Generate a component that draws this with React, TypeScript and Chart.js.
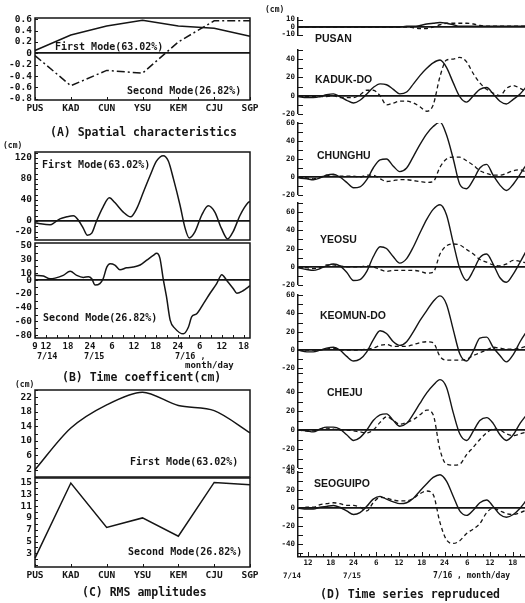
import React, { useEffect, useRef } from "react";
import { Chart, registerables } from "chart.js";

Chart.register(...registerables);

const MONO = "'DejaVu Sans Mono', 'Liberation Mono', monospace";
const SANS = "'Liberation Sans', 'DejaVu Sans', sans-serif";
const INK = "#151515";

// ---------------- (A) Spatial characteristics ----------------
const stationCodes = ["PUS", "KAD", "CUN", "YSU", "KEM", "CJU", "SGP"];
const spatialFirst = [0.05, 0.32, 0.48, 0.58, 0.48, 0.44, 0.3];
const spatialSecond = [-0.04, -0.57, -0.3, -0.35, 0.2, 0.57, 0.57];
const spatialTicks = [-0.8, -0.6, -0.4, -0.2, 0, 0.2, 0.4, 0.6];

// ---------------- (B) Time coefficient (hours from 7/14 00h) ----------------
const coefFirstHours = [9, 10.4, 13.1, 14.5, 15.8, 17.7, 19.5, 20.8, 22.2, 23.3, 24.5, 25.8, 27.6, 29.3, 30.8, 33.1, 35.1, 36.8, 38.6, 40.4, 42.2, 44.0, 45.4, 46.8, 48.6, 50.0, 51.1, 52.7, 54.5, 56.3, 58.1, 59.9, 61.6, 63.1, 65.0, 67.2, 67.7];
const coefFirstValues = [-3, -5, -7, -2, 4, 8, 10, 2, -14, -27, -23, 0, 27, 44, 35, 17, 8, 24, 55, 86, 114, 124, 114, 80, 30, -14, -32, -20, 11, 29, 17, -14, -34, -20, 11, 35, 37];
const coefSecondHours = [9, 11.3, 13.1, 14.5, 16.7, 18.6, 20.4, 22.2, 23.6, 24.5, 25.4, 26.7, 27.6, 28.6, 29.5, 30.8, 32.2, 34.0, 35.8, 37.7, 39.5, 41.3, 42.2, 43.1, 44.0, 44.9, 45.9, 47.2, 49.5, 50.9, 51.8, 53.1, 55.0, 56.8, 58.6, 60.0, 61.3, 63.1, 64.1, 65.9, 67.2, 67.7];
const coefSecondValues = [7, 6, 2, 3, 7, 13, 7, 4, 5, 2, -7, -5, 2, 19, 24, 22, 15, 18, 19, 22, 29, 36, 39, 32, 2, -24, -58, -70, -78, -68, -53, -49, -34, -19, -5, 8, 0, -12, -19, -15, -10, -8];
const coefFirstTickLabels = [120, 80, 40, 0, -20];
const coefSecondTickLabels = [50, 30, 10, 0, -20, -40, -60, -80];
const leftHourLabels = [9, 12, 18, 24, 30, 36, 42, 48, 54, 60, 66];

// ---------------- (C) RMS amplitudes ----------------
const rmsFirst = [2.0, 13.5, 19.9, 23.4, 19.7, 18.3, 12.2];
const rmsSecond = [2.2, 14.9, 7.4, 9.0, 5.9, 15.0, 14.6];
const rmsFirstTickLabels = [22, 18, 14, 10, 6, 2];
const rmsSecondTickLabels = [15, 13, 11, 9, 7, 5, 3];

// ---------------- (D) Time series reproduced ----------------
const seriesHours = [9.4, 11.7, 13.4, 15.2, 16.9, 18.7, 20.4, 22.2, 24.0, 25.7, 27.5, 29.2, 31.0, 32.7, 34.5, 36.2, 38.0, 39.8, 41.5, 43.3, 45.0, 46.8, 48.5, 50.3, 52.0, 53.8, 55.6, 57.3, 59.1, 60.8, 62.6, 64.3, 66.1, 67.9, 69.6];
const rightHourLabels = [12, 18, 24, 30, 36, 42, 48, 54, 60, 66];

const pusanFirst = [0, 0, 0, 0, 0, 0, 0, 0, 0, 0, 0, 0, 0, 0, 0, 0, 1, 1, 2, 4, 5, 6, 5, 3, 1, 1, 1, 1, 1, 1, 1, 1, 1, 1, 1];
const pusanSecond = [0, 0, 0, 0, 0, 0, 0, 0, 0, 0, 0, 0, 0, 0, 0, 0, 0, -1, -2, -2, 0, 3, 5, 5, 5, 5, 4, 2, 1, 1, 1, 1, 1, 1, 1];
const kadukFirst = [-1, -2, -2, -1, 1, 2, -1, -5, -8, -5, 2, 9, 13, 12, 7, 2, 4, 13, 22, 30, 36, 39, 31, 14, -1, -7, 0, 7, 9, 2, -6, -9, -4, 2, 10];
const kadukSecond = [0, -1, -1, -1, -1, 0, -2, -2, -2, 1, 6, 6, 0, -10, -8, -6, -6, -8, -12, -17, -10, 21, 39, 40, 42, 37, 24, 14, 7, 3, 0, 8, 11, 8, 4];
const chunghuFirst = [-1, -2, -3, -1, 2, 3, 0, -6, -12, -11, -3, 10, 19, 20, 12, 6, 10, 23, 36, 48, 56, 61, 47, 20, -8, -13, -3, 10, 14, 2, -9, -15, -8, 3, 14];
const chunghuSecond = [0, -1, -2, 0, 2, 1, 1, 1, 1, 0, 2, 2, -2, -5, -4, -3, -3, -4, -5, -6, -5, 11, 20, 22, 22, 18, 13, 7, 4, 2, 2, 4, 7, 8, 5];
const yeosuFirst = [-1, -3, -4, -2, 1, 3, 1, -6, -15, -14, -5, 11, 22, 20, 11, 4, 9, 22, 37, 52, 63, 68, 57, 26, -2, -15, -4, 10, 14, 3, -12, -17, -8, 5, 18];
const yeosuSecond = [0, -1, -2, -1, 2, 2, 1, 0, 0, 0, 1, 0, -3, -5, -4, -4, -4, -4, -5, -7, -6, 14, 23, 25, 24, 19, 14, 8, 5, 2, 1, 3, 7, 6, 4];
const keomunFirst = [0, -2, -2, 0, 2, 3, 0, -7, -12, -10, -2, 11, 21, 18, 9, 5, 9, 20, 32, 43, 53, 59, 50, 22, -4, -12, -1, 13, 14, 3, -6, -13, -5, 9, 20];
const keomunSecond = [0, 0, 0, 0, 1, 2, 0, 0, 0, 0, 1, 2, 5, 6, 4, 4, 4, 6, 8, 9, 8, -7, -11, -11, -11, -10, -6, -3, 0, 3, 2, 1, 1, 2, 4];
const chejuFirst = [0, -1, -2, 1, 3, 3, 1, -5, -11, -8, 0, 10, 16, 17, 10, 4, 7, 17, 28, 39, 47, 53, 45, 18, -4, -11, -1, 10, 13, 7, -5, -11, -5, 7, 16];
const chejuSecond = [0, -1, -1, 1, 2, 1, 0, 0, -1, -2, -3, 0, 8, 14, 10, 6, 8, 11, 16, 21, 16, -21, -36, -37, -36, -26, -18, -10, -3, 1, 0, -4, -6, -4, -2];
const seoguipoFirst = [0, -1, -1, 1, 2, 3, 1, -3, -7, -5, 2, 10, 13, 10, 7, 5, 6, 11, 19, 27, 34, 37, 30, 13, -3, -8, -2, 6, 9, 2, -7, -10, -7, 0, 9];
const seoguipoSecond = [0, 1, 1, 4, 5, 6, 5, 3, 3, 1, -3, 6, 12, 11, 9, 8, 8, 11, 16, 19, 15, -16, -35, -39, -36, -28, -23, -17, -5, 0, -3, -6, -7, -5, -2];

const pusanTickLabels = [10, 0, -10];
const kadukTickLabels = [40, 20, 0, -20];
const midTickLabels = [60, 40, 20, 0, -20];
const lowTickLabels = [40, 20, 0, -20, -40];

// ---------------- helpers ----------------
const range = (a: number, b: number, step: number) => {
  const out: number[] = [];
  for (let v = a; v <= b + 1e-9; v += step) out.push(Math.round(v * 1000) / 1000);
  return out;
};
const xy = (xs: number[], ys: number[]) => xs.map((x, i) => ({ x, y: ys[i] }));
const fmtDec = (v: number) => (v === 0 ? "0" : v.toFixed(1));
const fmtInt = (v: number) => String(v);
const hourLabel = (h: number) => (h % 24 === 0 ? "24" : String(h % 24));

const decor = {
  id: "decor",
  afterDatasetsDraw(chart: any, _a: any, o: any) {
    if (!o) return;
    const { ctx, chartArea: a } = chart;
    ctx.save();
    ctx.strokeStyle = INK;
    if (o.frame) {
      ctx.lineWidth = 1.5;
      ctx.strokeRect(a.left, a.top, a.right - a.left, a.bottom - a.top);
    }
    ctx.lineWidth = 1;
    if (o.yIn) {
      const s = chart.scales.y;
      for (const t of s.ticks) {
        const y = Math.round(s.getPixelForValue(t.value)) + 0.5;
        ctx.beginPath();
        ctx.moveTo(a.left, y);
        ctx.lineTo(a.left + o.yIn, y);
        ctx.stroke();
      }
    }
    if (o.xIn) {
      const s = chart.scales.x;
      for (const t of s.ticks) {
        const x = Math.round(s.getPixelForValue(t.value)) + 0.5;
        const len = o.xMajor && t.value % o.xMajor === 0 ? o.xMajorLen : o.xIn;
        ctx.beginPath();
        ctx.moveTo(x, a.bottom);
        ctx.lineTo(x, a.bottom - len);
        ctx.stroke();
      }
    }
    ctx.restore();
  },
};
Chart.register(decor as any);

function yAxis(min: number, max: number, marks: number[], labels: number[], fmt: (v: number) => string, width: number, fontSize: number, showLine: boolean, zero: boolean) {
  return {
    type: "linear",
    position: "left",
    min,
    max,
    afterBuildTicks: (s: any) => {
      s.ticks = marks.map((v) => ({ value: v }));
    },
    afterFit: (s: any) => {
      s.width = width;
      s.paddingTop = 0;
      s.paddingBottom = 0;
    },
    ticks: {
      autoSkip: false,
      padding: 3,
      color: INK,
      font: { family: MONO, size: fontSize, weight: "bold" },
      callback: (v: any) => (labels.includes(v) ? fmt(v) : ""),
    },
    grid: {
      drawTicks: false,
      color: (c: any) => (zero && c.tick && c.tick.value === 0 ? INK : "rgba(0,0,0,0)"),
      lineWidth: (c: any) => (zero && c.tick && c.tick.value === 0 ? 1.8 : 0),
    },
    border: { display: showLine, color: INK, width: 1.5 },
  };
}

function hourAxis(min: number, max: number, marks: number[], labels: number[], show: boolean, height: number, fontSize: number, showLine: boolean, pad: number) {
  return {
    type: "linear",
    position: "bottom",
    min,
    max,
    display: show,
    afterBuildTicks: (s: any) => {
      s.ticks = marks.map((v) => ({ value: v }));
    },
    afterFit: (s: any) => {
      s.height = show ? height : 0;
      s.paddingLeft = 0;
      s.paddingRight = 0;
    },
    ticks: {
      autoSkip: false,
      maxRotation: 0,
      minRotation: 0,
      padding: pad,
      color: INK,
      font: { family: MONO, size: fontSize, weight: "bold" },
      callback: (v: any) => (labels.includes(v) ? hourLabel(v) : ""),
    },
    grid: { display: false, drawTicks: false },
    border: { display: showLine, color: INK, width: 1.5 },
  };
}

function catAxis(show: boolean, height: number, fontSize: number) {
  return {
    type: "category",
    position: "bottom",
    offset: false,
    display: show,
    afterFit: (s: any) => {
      s.height = show ? height : 0;
      s.paddingLeft = 0;
      s.paddingRight = 0;
    },
    ticks: {
      autoSkip: false,
      maxRotation: 0,
      minRotation: 0,
      padding: 3,
      color: INK,
      font: { family: MONO, size: fontSize, weight: "bold" },
    },
    grid: { display: false, drawTicks: false },
    border: { display: false },
  };
}

const line = (data: any[], dash: number[] = [], width = 1.5, tension = 0, mono = false) => ({
  data,
  borderColor: INK,
  borderWidth: width,
  borderDash: dash,
  pointRadius: 0,
  tension,
  cubicInterpolationMode: mono ? "monotone" : "default",
  fill: false,
});

type Geo = { L: number; T: number; R: number; B: number; yW: number; xH: number; pl: number; pr: number; pt: number; pb: number };

function makeSpec(g: Geo, data: () => any, scales: () => any, decorOpts: any) {
  const left = g.L - g.yW - g.pl;
  const top = g.T - g.pt;
  const width = Math.round(g.R + g.pr - left);
  const height = Math.round(g.B + g.xH + g.pb - top);
  return {
    box: { left, top, width, height },
    make: () => ({
      type: "line",
      data: data(),
      options: {
        responsive: false,
        animation: false,
        devicePixelRatio: 1,
        events: [],
        layout: { padding: { left: g.pl, right: g.pr, top: g.pt, bottom: g.pb } },
        plugins: { legend: { display: false }, tooltip: { enabled: false }, decor: decorOpts },
        scales: scales(),
        elements: { point: { radius: 0 } },
      },
    }),
  };
}

// ---------------- chart specs ----------------
const LEFT = { L: 35, R: 250, yW: 33, pl: 2, pr: 12, pt: 7, pb: 4 };

const leftSpecs = [
  makeSpec(
    { ...LEFT, T: 18, B: 100, xH: 14 },
    () => ({ labels: stationCodes, datasets: [line(spatialFirst), line(spatialSecond, [8, 3, 2, 3])] }),
    () => ({ x: catAxis(true, 14, 9.5), y: yAxis(-0.82, 0.62, spatialTicks, spatialTicks, fmtDec, 33, 9.5, false, true) }),
    { frame: true, yIn: 3, xIn: 3 }
  ),
  makeSpec(
    { ...LEFT, T: 152, B: 240, xH: 0 },
    () => ({ datasets: [line(xy(coefFirstHours, coefFirstValues), [], 1.5, 0, true)] }),
    () => ({
      x: hourAxis(9, 67.7, range(9, 66, 3), leftHourLabels, false, 0, 9, false, 3),
      y: yAxis(-36, 131, range(-30, 130, 10), coefFirstTickLabels, fmtInt, 33, 9.5, false, true),
    }),
    { frame: true, yIn: 3 }
  ),
  makeSpec(
    { ...LEFT, T: 243, B: 338, xH: 14 },
    () => ({ datasets: [line(xy(coefSecondHours, coefSecondValues), [], 1.5, 0, true)] }),
    () => ({
      x: hourAxis(9, 67.7, range(9, 66, 3), leftHourLabels, true, 14, 9, false, 3),
      y: yAxis(-84, 54, range(-80, 50, 10), coefSecondTickLabels, fmtInt, 33, 9.5, false, true),
    }),
    { frame: true, yIn: 3, xIn: 3 }
  ),
  makeSpec(
    { ...LEFT, T: 390, B: 477, xH: 0 },
    () => ({ labels: stationCodes, datasets: [line(rmsFirst, [], 1.5, 0.3)] }),
    () => ({ x: catAxis(false, 0, 9.5), y: yAxis(0, 24, range(0, 24, 2), rmsFirstTickLabels, fmtInt, 33, 9.5, false, false) }),
    { frame: true, yIn: 3 }
  ),
  makeSpec(
    { ...LEFT, T: 478, B: 567, xH: 14 },
    () => ({ labels: stationCodes, datasets: [line(rmsSecond)] }),
    () => ({ x: catAxis(true, 14, 9.5), y: yAxis(0.7, 15.75, range(1, 15, 1), rmsSecondTickLabels, fmtInt, 33, 9.5, false, false) }),
    { frame: true, yIn: 3, xIn: 3 }
  ),
];

const stationPanels = [
  { name: "PUSAN", first: pusanFirst, second: pusanSecond, min: -12, max: 12, marks: [-10, 0, 10], labels: pusanTickLabels },
  { name: "KADUK-DO", first: kadukFirst, second: kadukSecond, min: -20, max: 50, marks: range(-20, 50, 10), labels: kadukTickLabels },
  { name: "CHUNGHU", first: chunghuFirst, second: chunghuSecond, min: -20, max: 60, marks: range(-20, 60, 10), labels: midTickLabels },
  { name: "YEOSU", first: yeosuFirst, second: yeosuSecond, min: -20, max: 70, marks: range(-20, 70, 10), labels: midTickLabels },
  { name: "KEOMUN-DO", first: keomunFirst, second: keomunSecond, min: -24, max: 60, marks: range(-20, 60, 10), labels: midTickLabels },
  { name: "CHEJU", first: chejuFirst, second: chejuSecond, min: -40, max: 60, marks: range(-40, 60, 10), labels: lowTickLabels },
  { name: "SEOGUIPO", first: seoguipoFirst, second: seoguipoSecond, min: -54, max: 40, marks: range(-50, 40, 10), labels: lowTickLabels },
];

// layout rows (plot top / bottom in px) and station-name placement
const rightRows = [[18, 36], [50, 114], [123, 195], [203, 285], [295, 372], [373, 468], [472, 557]];
const stationNamePos = [[315, 38], [315, 79], [317, 155], [320, 239], [320, 315], [327, 392], [314, 483]];

const rightSpecs = stationPanels.map((p, i) => {
  const [T, B] = rightRows[i];
  const last = i === stationPanels.length - 1;
  return makeSpec(
    { L: 298, R: 525, T, B, yW: 28, xH: last ? 13 : 0, pl: 2, pr: 0, pt: 6, pb: 3 },
    () => ({
      datasets: [
        line(xy(seriesHours, p.first), [], 1.4, 0, true),
        line(xy(seriesHours, p.second), [4, 3], 1.3, 0, true),
      ],
    }),
    () => ({
      x: hourAxis(9.37, 69.2, range(10, 68, 2), rightHourLabels, last, last ? 13 : 0, 7.5, true, 2),
      y: yAxis(p.min, p.max, p.marks, p.labels, fmtInt, 28, 7.5, true, true),
    }),
    { yIn: 5, xIn: last ? 3 : 0, xMajor: 6, xMajorLen: 5 }
  );
});

const allSpecs = [...leftSpecs, ...rightSpecs];

const texts: { x: number; y: number; t: string; s: number; f?: string }[] = [
  { x: 55, y: 47, t: "First Mode(63.02%)", s: 10 },
  { x: 127, y: 91, t: "Second Mode(26.82%)", s: 10 },
  { x: 50, y: 133, t: "(A) Spatial characteristics", s: 11.5 },
  { x: 3, y: 146, t: "(cm)", s: 8 },
  { x: 42, y: 165, t: "First Mode(63.02%)", s: 10 },
  { x: 43, y: 318, t: "Second Mode(26.82%)", s: 10 },
  { x: 37, y: 356, t: "7/14", s: 8.5 },
  { x: 84, y: 356, t: "7/15", s: 8.5 },
  { x: 175, y: 356, t: "7/16 ,", s: 8.5 },
  { x: 185, y: 365, t: "month/day", s: 9 },
  { x: 62, y: 378, t: "(B) Time coefficent(cm)", s: 11.5 },
  { x: 15, y: 385, t: "(cm)", s: 8 },
  { x: 130, y: 462, t: "First Mode(63.02%)", s: 10 },
  { x: 128, y: 552, t: "Second Mode(26.82%)", s: 10 },
  { x: 82, y: 593, t: "(C) RMS amplitudes", s: 11.5 },
  { x: 265, y: 10, t: "(cm)", s: 8 },
  { x: 283, y: 576, t: "7/14", s: 7.5 },
  { x: 343, y: 576, t: "7/15", s: 7.5 },
  { x: 433, y: 576, t: "7/16 , month/day", s: 8 },
  { x: 320, y: 595, t: "(D) Time series repruduced", s: 11.5 },
];

function ChartCanvas({ spec }: { spec: any }) {
  const ref = useRef<HTMLCanvasElement | null>(null);
  useEffect(() => {
    if (!ref.current) return;
    const chart = new Chart(ref.current, spec.make());
    return () => chart.destroy();
  }, [spec]);
  const { left, top, width, height } = spec.box;
  return (
    <canvas
      ref={ref}
      width={width}
      height={height}
      style={{ position: "absolute", left, top, width, height }}
    />
  );
}

export default function App() {
  return (
    <div style={{ position: "absolute", left: 0, top: 0, width: 525, height: 603, overflow: "hidden", background: "#fff" }}>
      {allSpecs.map((s, i) => (
        <ChartCanvas key={i} spec={s} />
      ))}
      {texts.map((t, i) => (
        <div
          key={"t" + i}
          style={{
            position: "absolute",
            left: t.x,
            top: t.y,
            transform: "translateY(-50%)",
            fontFamily: t.f || MONO,
            fontSize: t.s,
            fontWeight: "bold",
            lineHeight: 1,
            whiteSpace: "pre",
            color: INK,
          }}
        >
          {t.t}
        </div>
      ))}
      {stationPanels.map((p, i) => (
        <div
          key={"n" + i}
          style={{
            position: "absolute",
            left: stationNamePos[i][0],
            top: stationNamePos[i][1],
            transform: "translateY(-50%)",
            fontFamily: SANS,
            fontSize: 10.5,
            fontWeight: "bold",
            lineHeight: 1,
            whiteSpace: "pre",
            color: INK,
          }}
        >
          {p.name}
        </div>
      ))}
    </div>
  );
}
